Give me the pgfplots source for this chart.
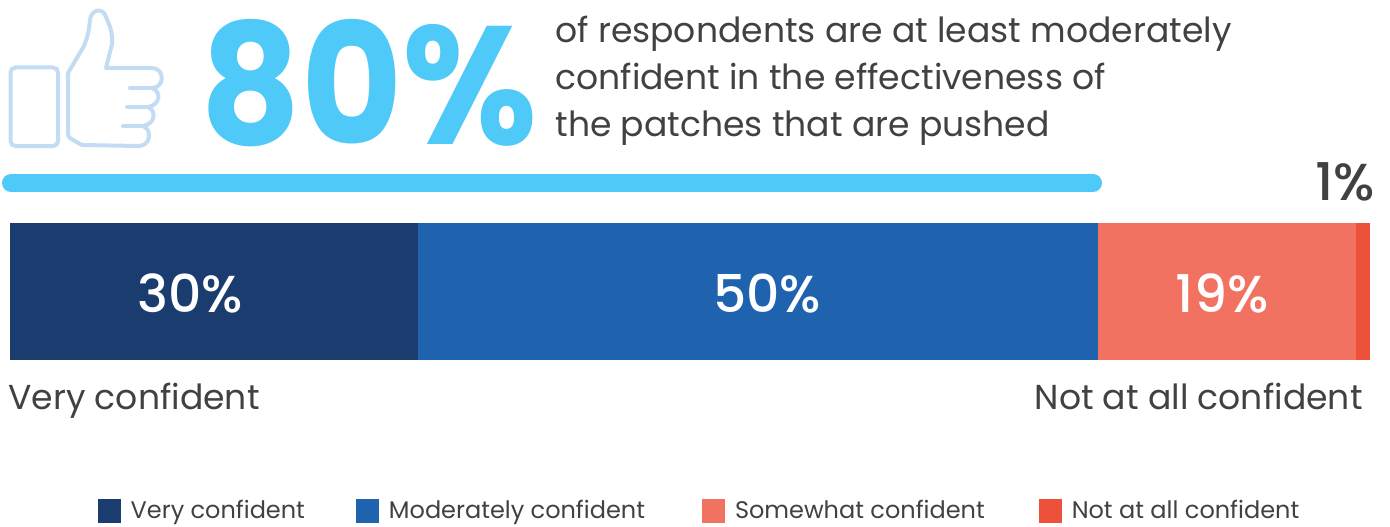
\documentclass[border=0pt]{standalone}
\usepackage{fontspec}
\setmainfont{Poppins}
\newfontfamily\headfont{Poppins}[UprightFont=*-Bold]
\newfontfamily\numfont{Poppins}[UprightFont=*-Medium]
\usepackage{pgfplots}
\pgfplotsset{compat=1.18}
\definecolor{sky}{HTML}{4FC9F8}
\definecolor{navy}{HTML}{1B3C6F}
\definecolor{midblue}{HTML}{1F63AF}
\definecolor{salmon}{HTML}{F27262}
\definecolor{tomato}{HTML}{EE5139}
\definecolor{ink}{HTML}{414042}
\definecolor{iconline}{HTML}{C3DCF3}
\begin{document}
\begin{tikzpicture}
% page frame
\path (0,0) rectangle (695pt,263pt);
\begin{axis}[
  at={(5pt,83pt)}, anchor=south west,
  scale only axis, width=680pt, height=68.5pt,
  xmin=0, xmax=100, ymin=-0.5, ymax=0.5,
  hide axis, clip=false,
  xbar stacked, bar width=68.5pt, bar shift=0pt,
  /pgf/number format/assume math mode=true,
  nodes near coords={\pgfmathprintnumber{\pgfplotspointmeta}\%},
  nodes near coords style={font=\numfont\fontsize{26}{26}\selectfont, text=white, anchor=center, yshift=-1pt},
  legend columns=4,
  legend style={draw=none, fill=none, at={(0.0645,-1.102)}, anchor=west, inner sep=0pt, outer sep=0pt,
    font=\fontsize{12}{12}\selectfont\color{ink},
    /tikz/every odd column/.style={column sep=3pt},
    /tikz/column 2/.style={column sep=23.5pt},
    /tikz/column 4/.style={column sep=26.5pt},
    /tikz/column 6/.style={column sep=25pt}},
  legend image code/.code={\fill[#1] (0pt,-6pt) rectangle (11.5pt,6pt);},
]
\addplot[fill=navy, draw=none, every node near coord/.append style={xshift=-12pt}] coordinates {(30,0)};
\addlegendentry{Very confident}
\addplot[fill=midblue, draw=none, every node near coord/.append style={xshift=4.5pt}] coordinates {(50,0)};
\addlegendentry{Moderately confident}
\addplot[fill=salmon, draw=none, every node near coord/.append style={xshift=-2.5pt}] coordinates {(19,0)};
\addlegendentry{Somewhat confident}
\addplot[fill=tomato, draw=none, every node near coord/.append style={xshift=-9pt, yshift=56pt, text=ink}] coordinates {(1,0)};
\addlegendentry{Not at all confident}
\end{axis}
% everything below is placed on a 1390 x 526 grid, origin top left
\begin{scope}[x=0.5pt, y=-0.5pt, yshift=263pt]
  \draw[sky, line width=9pt, line cap=round] (11,183) -- (1093,183);
  \node[anchor=base west, inner sep=0pt, text=sky, font=\headfont\fontsize{84}{84}\selectfont] at (200,144) {\scalebox{0.925}[1]{80\%}};
  \begin{scope}[every node/.style={anchor=base west, inner sep=0pt, text=ink, font=\fontsize{17.3}{17.3}\selectfont}]
    \node at (555,43) {of respondents are at least moderately};
    \node at (555,89.5) {confident in the effectiveness of};
    \node at (555,136) {the patches that are pushed};
    \node at (8,409.5) {Very confident};
    \node[anchor=base east] at (1363,409.5) {Not at all confident};
  \end{scope}
  % thumbs-up icon
  \draw[iconline, line width=2pt, rounded corners=2.5pt] (10.5,67.5) rectangle (58,146);
  \begin{scope}[draw=iconline, line width=2pt, line cap=round, line join=round]
    \draw (68,73) -- (84,46) .. controls (88,36) and (89,30) .. (90,20)
       .. controls (91,9) and (103,7) .. (106,17) .. controls (110,26) and (113,34) .. (112,44)
       -- (106,68) -- (152,68) .. controls (165,68) and (165,88) .. (152,88)
       .. controls (162,92) and (160,105) .. (148,107)
       .. controls (157,111) and (155,124) .. (143,126)
       .. controls (153,130) and (150,146) .. (139,146) -- (82,145)
       -- (73,140) .. controls (70,139) and (68,137) .. (68,133) -- cycle;
    \draw (152,88) -- (130,88);
    \draw (148,107) -- (127,107);
    \draw (143,126) -- (123,126);
  \end{scope}
\end{scope}
\end{tikzpicture}
\end{document}
